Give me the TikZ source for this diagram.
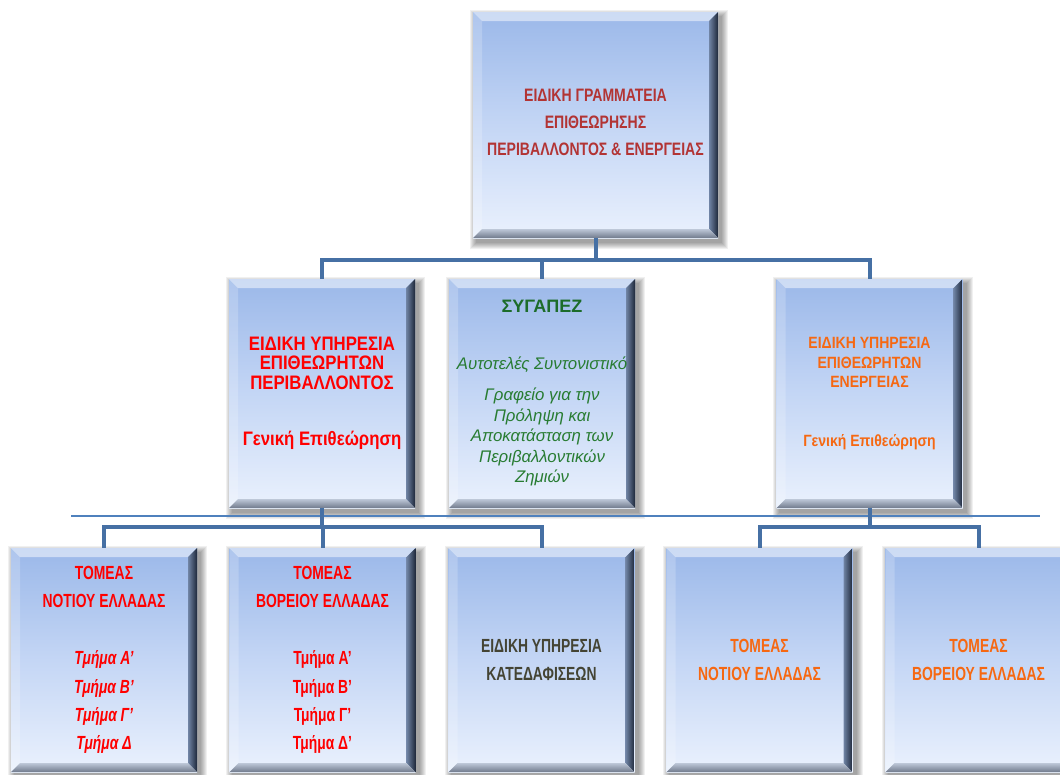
\documentclass[tikz,border=0pt]{standalone}
\usepackage{fontspec}
\setmainfont{Liberation Sans}[FakeStretch=0.86]
\newfontfamily\narrowf{Liberation Sans}[FakeStretch=0.73]
\newfontfamily\topf{Liberation Sans}[FakeStretch=0.78]
\newfontfamily\widef{Liberation Sans}
\pgfdeclarelayer{bg}
\pgfsetlayers{bg,main}
\definecolor{boxtop}{RGB}{155,184,233}
\definecolor{boxmid}{RGB}{196,214,245}
\definecolor{boxbot}{RGB}{234,241,253}
\definecolor{bevRin}{RGB}{112,132,165}
\definecolor{bevRout}{RGB}{30,40,58}
\definecolor{bevBin}{RGB}{190,200,216}
\definecolor{bevBout}{RGB}{112,122,140}
\definecolor{connc}{RGB}{70,112,164}
\definecolor{hlinec}{RGB}{79,129,189}
\definecolor{topred}{RGB}{178,52,52}
\definecolor{pured}{RGB}{255,0,0}
\definecolor{dgreen}{RGB}{28,108,42}
\definecolor{igreen}{RGB}{40,124,50}
\definecolor{orng}{RGB}{246,104,18}
\definecolor{dgray}{RGB}{68,68,52}
\tikzset{
  bevelbox/.style={rectangle, inner sep=0pt, align=center,
    top color=boxtop, bottom color=boxbot, middle color=boxmid,
    path picture={
      \fill[white, opacity=.5] (path picture bounding box.north west) -- (path picture bounding box.north east) -- ([xshift=-9pt,yshift=-9pt]path picture bounding box.north east) -- ([xshift=9pt,yshift=-9pt]path picture bounding box.north west) -- cycle;
      \fill[white, opacity=.2] (path picture bounding box.north west) -- ([xshift=9pt,yshift=-9pt]path picture bounding box.north west) -- ([xshift=9pt,yshift=9pt]path picture bounding box.south west) -- (path picture bounding box.south west) -- cycle;
      \shade[left color=bevRin, right color=bevRout] (path picture bounding box.north east) -- (path picture bounding box.south east) -- ([xshift=-9pt,yshift=9pt]path picture bounding box.south east) -- ([xshift=-9pt,yshift=-9pt]path picture bounding box.north east) -- cycle;
      \shade[top color=bevBin, bottom color=bevBout] (path picture bounding box.south west) -- ([xshift=9pt,yshift=9pt]path picture bounding box.south west) -- ([xshift=-9pt,yshift=9pt]path picture bounding box.south east) -- (path picture bounding box.south east) -- cycle;
    }},
  midbox/.style={bevelbox, minimum width=186pt, minimum height=229pt},
  lowbox/.style={bevelbox, minimum width=186pt, minimum height=224pt},
  conn/.style={draw=connc, line width=4pt},
  sepline/.style={draw=hlinec, line width=1.8pt}
}
\newcommand\boxshadow[1]{%
  \begin{pgfonlayer}{bg}
    \foreach \e in {0,1,...,6}{
      \fill[black, opacity=0.06] ([xshift={(3-\e)*1pt}, yshift={(-4+\e)*1pt}]#1.north west) rectangle ([xshift={(4+\e)*1pt}, yshift={(-5-\e)*1pt}]#1.south east);
    }
  \end{pgfonlayer}}
\begin{document}
\begin{tikzpicture}[x=1pt, y=-1pt]
\begin{pgfonlayer}{bg}
  \fill[white] (0,0) rectangle (1060,774);
\end{pgfonlayer}
\useasboundingbox (0,0) rectangle (1060,774);

% top
\node[bevelbox, minimum width=245pt, minimum height=226pt, text=topred,
  font={\topf\bfseries\fontsize{18}{27}\selectfont}] (top) at (595.5,125)
  {ΕΙΔΙΚΗ ΓΡΑΜΜΑΤΕΙΑ\\ΕΠΙΘΕΩΡΗΣΗΣ\\ΠΕΡΙΒΑΛΛΟΝΤΟΣ \& ΕΝΕΡΓΕΙΑΣ\\[-21pt]\mbox{}};

% middle row
\node[midbox, text=pured, font={\bfseries\fontsize{19.5}{19.5}\selectfont}] (ml) at (322,393.5)
  {ΕΙΔΙΚΗ ΥΠΗΡΕΣΙΑ\\ΕΠΙΘΕΩΡΗΤΩΝ\\ΠΕΡΙΒΑΛΛΟΝΤΟΣ\\[37pt]Γενική Επιθεώρηση};
\node[midbox, text=igreen, font={\widef\itshape\fontsize{16.8}{20.5}\selectfont}] (sy) at (542,393.5)
  {{\color{dgreen}\upshape\bfseries\fontsize{18}{20.5}\selectfont ΣΥΓΑΠΕΖ}\\[36.5pt]Αυτοτελές Συντονιστικό\\[10.5pt]Γραφείο για την\\Πρόληψη και\\Αποκατάσταση των\\Περιβαλλοντικών\\Ζημιών};
\node[midbox, text=orng, font={\bfseries\fontsize{16.3}{19.5}\selectfont}] (mr) at (869.5,393.5)
  {ΕΙΔΙΚΗ ΥΠΗΡΕΣΙΑ\\ΕΠΙΘΕΩΡΗΤΩΝ\\ΕΝΕΡΓΕΙΑΣ\\[39pt]Γενική Επιθεώρηση};

% lower row
\node[lowbox, text=pured, font={\narrowf\bfseries\fontsize{19}{28.3}\selectfont}] (b1) at (104,660)
  {ΤΟΜΕΑΣ\\ΝΟΤΙΟΥ ΕΛΛΑΔΑΣ\\[28.5pt]\textit{Τμήμα Α’}\\\textit{Τμήμα Β’}\\\textit{Τμήμα Γ’}\\\textit{Τμήμα Δ}};
\node[lowbox, text=pured, font={\narrowf\bfseries\fontsize{19}{28.3}\selectfont}] (b2) at (322.5,660)
  {ΤΟΜΕΑΣ\\ΒΟΡΕΙΟΥ ΕΛΛΑΔΑΣ\\[28.5pt]Τμήμα Α’\\Τμήμα Β’\\Τμήμα Γ’\\Τμήμα Δ’};
\node[lowbox, text=dgray, font={\narrowf\bfseries\fontsize{19}{28}\selectfont}] (b3) at (541.5,660)
  {ΕΙΔΙΚΗ ΥΠΗΡΕΣΙΑ\\ΚΑΤΕΔΑΦΙΣΕΩΝ};
\node[lowbox, text=orng, font={\narrowf\bfseries\fontsize{19}{28}\selectfont}] (b4) at (759.5,660)
  {ΤΟΜΕΑΣ\\ΝΟΤΙΟΥ ΕΛΛΑΔΑΣ};
\node[lowbox, text=orng, font={\narrowf\bfseries\fontsize{19}{28}\selectfont}] (b5) at (978.5,660)
  {ΤΟΜΕΑΣ\\ΒΟΡΕΙΟΥ ΕΛΛΑΔΑΣ};

\foreach \n in {top,ml,sy,mr,b1,b2,b3,b4,b5}{\boxshadow{\n}}

% separator line
\coordinate (hl1) at (71,516);
\coordinate (hl2) at (1040,516);
\draw[sepline] (hl1) -- (hl2);

% connectors
\coordinate (j1) at (595.5,260);
\coordinate (j2) at (322,527);
\coordinate (j3) at (869.5,527);
\draw[conn] (top.south) -- (j1);
\draw[conn] (ml.north) |- (j1 -| mr.north) -- (mr.north);
\draw[conn] (sy.north) -- (sy.north |- j1);
\draw[conn] (ml.south) -- (j2);
\draw[conn] (b1.north) |- (j2 -| b3.north) -- (b3.north);
\draw[conn] (b2.north) -- (b2.north |- j2);
\draw[conn] (mr.south) -- (j3);
\draw[conn] (b4.north) |- (j3 -| b5.north) -- (b5.north);
\end{tikzpicture}
\end{document}
